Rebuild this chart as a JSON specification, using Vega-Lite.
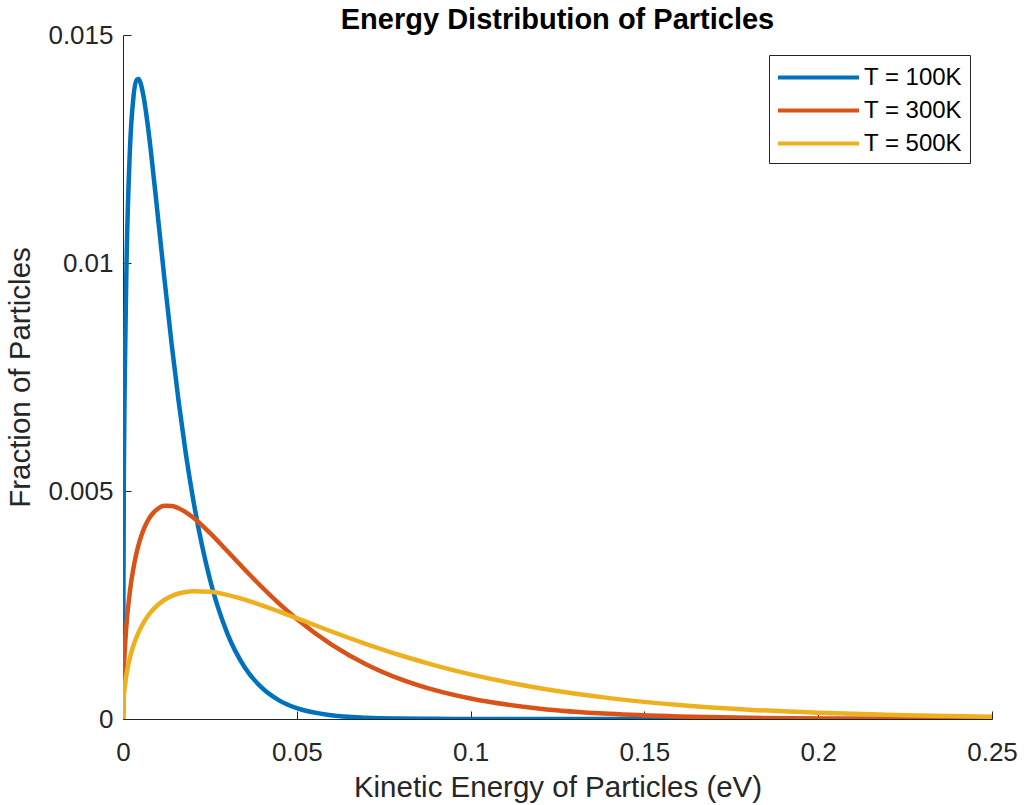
{
  "$schema": "https://vega.github.io/schema/vega-lite/v6.json",
  "autosize": {"type": "none"},
  "padding": {"left": 123, "top": 35, "right": 32, "bottom": 86},
  "width": 869,
  "height": 684,
  "background": "white",
  "title": {
    "text": "Energy Distribution of Particles",
    "font": "Liberation Sans",
    "fontSize": 29,
    "fontWeight": "bold",
    "color": "#000000",
    "anchor": "middle",
    "offset": -13
  },
  "config": {
    "view": {"stroke": null},
    "font": "Liberation Sans",
    "axis": {
      "grid": false,
      "domainColor": "#262626",
      "domainWidth": 1,
      "tickColor": "#262626",
      "tickWidth": 1,
      "tickSize": -8,
      "labelColor": "#262626",
      "titleColor": "#262626",
      "labelFont": "Liberation Sans",
      "titleFont": "Liberation Sans",
      "labelFontSize": 26,
      "titleFontSize": 29.5,
      "titleFontWeight": "normal",
      "labelFlush": false,
      "labelOverlap": false
    }
  },
  "data": {
    "values": [
      {"T": "T = 100K", "E": 0, "f": 0},
      {"T": "T = 100K", "E": 0.00025, "f": 0.005416},
      {"T": "T = 100K", "E": 0.0005, "f": 0.007441},
      {"T": "T = 100K", "E": 0.001, "f": 0.00993},
      {"T": "T = 100K", "E": 0.002, "f": 0.012504},
      {"T": "T = 100K", "E": 0.003, "f": 0.013637},
      {"T": "T = 100K", "E": 0.004, "f": 0.014021},
      {"T": "T = 100K", "E": 0.0045, "f": 0.014034},
      {"T": "T = 100K", "E": 0.005, "f": 0.013958},
      {"T": "T = 100K", "E": 0.006, "f": 0.013616},
      {"T": "T = 100K", "E": 0.007, "f": 0.013095},
      {"T": "T = 100K", "E": 0.008, "f": 0.012465},
      {"T": "T = 100K", "E": 0.01, "f": 0.011049},
      {"T": "T = 100K", "E": 0.012, "f": 0.009597},
      {"T": "T = 100K", "E": 0.014, "f": 0.008218},
      {"T": "T = 100K", "E": 0.016, "f": 0.006966},
      {"T": "T = 100K", "E": 0.018, "f": 0.005858},
      {"T": "T = 100K", "E": 0.02, "f": 0.004896},
      {"T": "T = 100K", "E": 0.025, "f": 0.003064},
      {"T": "T = 100K", "E": 0.03, "f": 0.001879},
      {"T": "T = 100K", "E": 0.035, "f": 0.001136},
      {"T": "T = 100K", "E": 0.04, "f": 0.00068},
      {"T": "T = 100K", "E": 0.045, "f": 0.000404},
      {"T": "T = 100K", "E": 0.05, "f": 0.000238},
      {"T": "T = 100K", "E": 0.06, "f": 0.0000817},
      {"T": "T = 100K", "E": 0.07, "f": 0.0000277},
      {"T": "T = 100K", "E": 0.08, "f": 0.0000093},
      {"T": "T = 100K", "E": 0.09, "f": 0.0000031},
      {"T": "T = 100K", "E": 0.1, "f": 0.000001},
      {"T": "T = 100K", "E": 0.12, "f": 0.0000001},
      {"T": "T = 100K", "E": 0.14, "f": 0},
      {"T": "T = 100K", "E": 0.16, "f": 0},
      {"T": "T = 100K", "E": 0.18, "f": 0},
      {"T": "T = 100K", "E": 0.2, "f": 0},
      {"T": "T = 100K", "E": 0.225, "f": 0},
      {"T": "T = 100K", "E": 0.25, "f": 0},
      {"T": "T = 300K", "E": 0, "f": 0},
      {"T": "T = 300K", "E": 0.00025, "f": 0.001063},
      {"T": "T = 300K", "E": 0.0005, "f": 0.001489},
      {"T": "T = 300K", "E": 0.001, "f": 0.002065},
      {"T": "T = 300K", "E": 0.002, "f": 0.002809},
      {"T": "T = 300K", "E": 0.003, "f": 0.00331},
      {"T": "T = 300K", "E": 0.004, "f": 0.003677},
      {"T": "T = 300K", "E": 0.005, "f": 0.003955},
      {"T": "T = 300K", "E": 0.006, "f": 0.004168},
      {"T": "T = 300K", "E": 0.007, "f": 0.004331},
      {"T": "T = 300K", "E": 0.008, "f": 0.004455},
      {"T": "T = 300K", "E": 0.01, "f": 0.00461},
      {"T": "T = 300K", "E": 0.012, "f": 0.004674},
      {"T": "T = 300K", "E": 0.014, "f": 0.004672},
      {"T": "T = 300K", "E": 0.016, "f": 0.004623},
      {"T": "T = 300K", "E": 0.018, "f": 0.004539},
      {"T": "T = 300K", "E": 0.02, "f": 0.004428},
      {"T": "T = 300K", "E": 0.025, "f": 0.00408},
      {"T": "T = 300K", "E": 0.03, "f": 0.003683},
      {"T": "T = 300K", "E": 0.035, "f": 0.003279},
      {"T": "T = 300K", "E": 0.04, "f": 0.002889},
      {"T": "T = 300K", "E": 0.045, "f": 0.002525},
      {"T": "T = 300K", "E": 0.05, "f": 0.002194},
      {"T": "T = 300K", "E": 0.06, "f": 0.001632},
      {"T": "T = 300K", "E": 0.07, "f": 0.001197},
      {"T": "T = 300K", "E": 0.08, "f": 0.000869},
      {"T": "T = 300K", "E": 0.09, "f": 0.000626},
      {"T": "T = 300K", "E": 0.1, "f": 0.000448},
      {"T": "T = 300K", "E": 0.12, "f": 0.000227},
      {"T": "T = 300K", "E": 0.14, "f": 0.000113},
      {"T": "T = 300K", "E": 0.16, "f": 0.0000557},
      {"T": "T = 300K", "E": 0.18, "f": 0.0000272},
      {"T": "T = 300K", "E": 0.2, "f": 0.0000133},
      {"T": "T = 300K", "E": 0.225, "f": 0.0000053},
      {"T": "T = 300K", "E": 0.25, "f": 0.0000021},
      {"T": "T = 500K", "E": 0, "f": 0},
      {"T": "T = 500K", "E": 0.00025, "f": 0.000496},
      {"T": "T = 500K", "E": 0.0005, "f": 0.000697},
      {"T": "T = 500K", "E": 0.001, "f": 0.000975},
      {"T": "T = 500K", "E": 0.002, "f": 0.001347},
      {"T": "T = 500K", "E": 0.003, "f": 0.001611},
      {"T": "T = 500K", "E": 0.004, "f": 0.001818},
      {"T": "T = 500K", "E": 0.005, "f": 0.001986},
      {"T": "T = 500K", "E": 0.006, "f": 0.002126},
      {"T": "T = 500K", "E": 0.007, "f": 0.002243},
      {"T": "T = 500K", "E": 0.008, "f": 0.002343},
      {"T": "T = 500K", "E": 0.01, "f": 0.002501},
      {"T": "T = 500K", "E": 0.012, "f": 0.002615},
      {"T": "T = 500K", "E": 0.014, "f": 0.002697},
      {"T": "T = 500K", "E": 0.016, "f": 0.002752},
      {"T": "T = 500K", "E": 0.018, "f": 0.002787},
      {"T": "T = 500K", "E": 0.02, "f": 0.002804},
      {"T": "T = 500K", "E": 0.025, "f": 0.002792},
      {"T": "T = 500K", "E": 0.03, "f": 0.002723},
      {"T": "T = 500K", "E": 0.035, "f": 0.002619},
      {"T": "T = 500K", "E": 0.04, "f": 0.002493},
      {"T": "T = 500K", "E": 0.045, "f": 0.002355},
      {"T": "T = 500K", "E": 0.05, "f": 0.00221},
      {"T": "T = 500K", "E": 0.06, "f": 0.001919},
      {"T": "T = 500K", "E": 0.07, "f": 0.001644},
      {"T": "T = 500K", "E": 0.08, "f": 0.001393},
      {"T": "T = 500K", "E": 0.09, "f": 0.001172},
      {"T": "T = 500K", "E": 0.1, "f": 0.000979},
      {"T": "T = 500K", "E": 0.12, "f": 0.000674},
      {"T": "T = 500K", "E": 0.14, "f": 0.000458},
      {"T": "T = 500K", "E": 0.16, "f": 0.000308},
      {"T": "T = 500K", "E": 0.18, "f": 0.000205},
      {"T": "T = 500K", "E": 0.2, "f": 0.000136},
      {"T": "T = 500K", "E": 0.225, "f": 0.0000808},
      {"T": "T = 500K", "E": 0.25, "f": 0.0000476}
    ]
  },
  "mark": {"type": "line", "strokeWidth": 4.5, "interpolate": "monotone", "clip": true},
  "encoding": {
    "x": {
      "field": "E",
      "type": "quantitative",
      "title": "Kinetic Energy of Particles (eV)",
      "scale": {"domain": [0, 0.25], "nice": false, "zero": false},
      "axis": {"values": [0, 0.05, 0.1, 0.15, 0.2, 0.25], "format": ".4~g", "labelPadding": 28, "titlePadding": 8}
    },
    "y": {
      "field": "f",
      "type": "quantitative",
      "title": "Fraction of Particles",
      "scale": {"domain": [0, 0.015], "nice": false},
      "axis": {"values": [0, 0.005, 0.01, 0.015], "format": ".4~g", "labelPadding": 18, "titlePadding": 12}
    },
    "color": {
      "field": "T",
      "type": "nominal",
      "scale": {"domain": ["T = 100K", "T = 300K", "T = 500K"], "range": ["#0072BD", "#D95319", "#EDB120"]},
      "legend": {
        "title": null,
        "orient": "none",
        "legendX": 646,
        "legendY": 20,
        "symbolType": "M-3,0H3",
        "symbolSize": 729,
        "symbolStrokeWidth": 4,
        "symbolOffset": 27,
        "labelFontSize": 24,
        "labelFont": "Liberation Sans",
        "labelColor": "#000000",
        "labelOffset": 30,
        "strokeColor": "#262626",
        "fillColor": "white",
        "padding": 7,
        "rowPadding": 5
      }
    }
  }
}
